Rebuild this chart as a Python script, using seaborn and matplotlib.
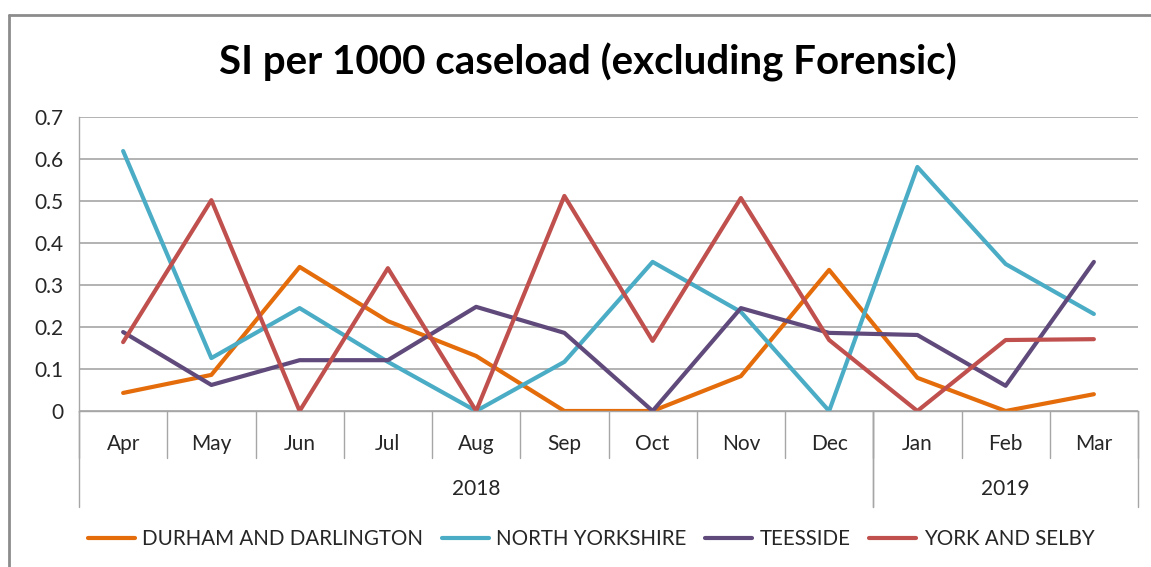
import numpy as np
import pandas as pd
import matplotlib
matplotlib.use('Agg')
import matplotlib.pyplot as plt
import matplotlib.transforms as mtransforms
from matplotlib.lines import Line2D
import seaborn as sns

# ── Data ─────────────────────────────────────────────────────────────────
months = ['Apr', 'May', 'Jun', 'Jul', 'Aug', 'Sep', 'Oct', 'Nov', 'Dec',
          'Jan', 'Feb', 'Mar']
years = ['2018', '2019']
months_per_year = [9, 3]

durham = [0.043, 0.086, 0.343, 0.214, 0.131, 0.0, 0.0, 0.083, 0.336,
          0.079, 0.0, 0.040]
north_yorks = [0.619, 0.126, 0.245, 0.117, 0.0, 0.117, 0.355, 0.236, 0.0,
               0.581, 0.350, 0.231]
teesside = [0.188, 0.062, 0.121, 0.121, 0.248, 0.186, 0.0, 0.245, 0.186,
            0.181, 0.060, 0.355]
york = [0.164, 0.502, 0.0, 0.340, 0.0, 0.512, 0.167, 0.507, 0.169,
        0.0, 0.169, 0.171]

series = {
    'DURHAM AND DARLINGTON': durham,
    'NORTH YORKSHIRE': north_yorks,
    'TEESSIDE': teesside,
    'YORK AND SELBY': york,
}
colours = ['#E46C0A', '#4BACC6', '#604A7B', '#C0504D']

df = pd.DataFrame(series)
df['month'] = months
long = df.melt(id_vars='month', var_name='area', value_name='rate')

# ── Style ────────────────────────────────────────────────────────────────
sns.set_style('white')
plt.rcParams['font.family'] = ['Lato', 'DejaVu Sans']
GRID = '#A6A6A6'
TEXT = '#262626'

fig = plt.figure(figsize=(11.51, 5.67), dpi=100)
ax = fig.add_axes([79 / 1151, 156 / 567, 1059 / 1151, 294 / 567])

sns.lineplot(data=long, x='month', y='rate', hue='area', palette=colours,
             linewidth=3, sort=False, legend=False, ax=ax,
             solid_capstyle='round', solid_joinstyle='round')

ax.set_xlim(-0.5, len(months) - 0.5)
ax.set_ylim(0, 0.7)
ax.set_yticks(np.arange(0, 0.71, 0.1))
ax.set_yticklabels(['0'] + [f'{v:.1f}' for v in np.arange(0.1, 0.71, 0.1)])
ax.yaxis.grid(True, color=GRID, linewidth=1.2)
ax.set_axisbelow(True)
ax.tick_params(axis='y', length=6.5, width=1, color=GRID, labelsize=15,
               labelcolor=TEXT, pad=5)
ax.set_xticks([])
ax.set_xlabel('')
ax.set_ylabel('')
for s in ['top', 'right']:
    ax.spines[s].set_visible(False)
for s in ['left', 'bottom']:
    ax.spines[s].set_color(GRID)
    ax.spines[s].set_linewidth(1)

# ── Multi-level category axis ────────────────────────────────────────────
trans = mtransforms.blended_transform_factory(ax.transData, ax.transAxes)
month_drop, year_drop = -0.16, -0.327
for i, m in enumerate(months):
    ax.text(i, -0.113, m, transform=trans, ha='center', va='center',
            fontsize=15, color=TEXT)
for b in np.arange(-0.5, len(months), 1.0):
    ax.plot([b, b], [0, month_drop], transform=trans, color=GRID,
            linewidth=1, clip_on=False)
start = -0.5
for yr, n in zip(years, months_per_year):
    end = start + n
    ax.text((start + end) / 2, -0.266, yr, transform=trans, ha='center',
            va='center', fontsize=15, color=TEXT)
    for b in (start, end):
        ax.plot([b, b], [0, year_drop], transform=trans, color=GRID,
                linewidth=1, clip_on=False)
    start = end

# ── Title, legend and outer frame ────────────────────────────────────────
fig.text(588 / 1151, 1 - 62 / 567, 'SI per 1000 caseload (excluding Forensic)',
         ha='center', va='center', fontsize=29, fontweight='bold', color='black')

handles = [Line2D([0], [0], color=c, linewidth=3, solid_capstyle='round')
           for c in colours]
fig.legend(handles, list(series.keys()), loc='center', ncol=4,
           bbox_to_anchor=(591 / 1151, 1 - 539 / 567), frameon=False,
           fontsize=14.8, handlelength=2.3, handletextpad=0.35,
           columnspacing=0.9, labelcolor=TEXT)

fig.add_artist(Line2D([9 / 1151, 9 / 1151], [0, 1 - 15 / 567],
                      transform=fig.transFigure, color='#8C8C8C', linewidth=2))
fig.add_artist(Line2D([9 / 1151, 1], [1 - 15 / 567, 1 - 15 / 567],
                      transform=fig.transFigure, color='#8C8C8C', linewidth=2))

fig.savefig('out.png', dpi=100)
plt.close(fig)
